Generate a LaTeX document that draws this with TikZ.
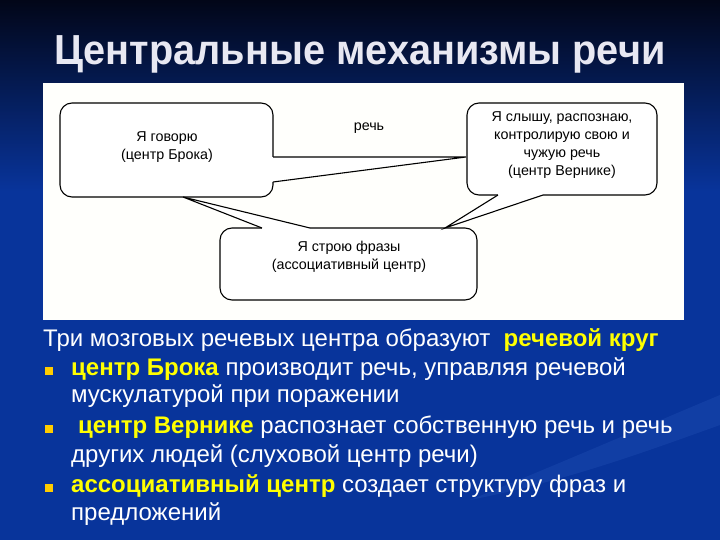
\documentclass[tikz,border=0pt]{standalone}
\usepackage{fontspec}
\setmainfont{Liberation Sans}
\usetikzlibrary{calc}
\definecolor{bgtop}{RGB}{2,6,24}
\definecolor{bgblue}{RGB}{8,52,155}
\definecolor{swoosh}{RGB}{30,75,175}
\definecolor{panel}{RGB}{255,255,252}
\definecolor{yel}{RGB}{255,255,0}
\definecolor{bul}{RGB}{255,204,0}
\definecolor{titlecol}{RGB}{232,232,242}
\tikzset{
  bubble/.style={draw=black, line width=1.1pt, fill=white, rounded corners=12pt},
  wedgeline/.style={draw=black, line width=1.1pt, line join=miter},
  wedgecover/.style={draw=white, line width=1.8pt, line cap=butt},
  btext/.style={font=\fontsize{14.3}{18}\selectfont, align=center, inner sep=0pt, text=black},
  body/.style={font=\fontsize{24}{27}\selectfont, text=white, anchor=base west, inner sep=0pt},
  bulletsq/.style={fill=bul, minimum size=8pt, inner sep=0pt, anchor=south west}
}
\newcommand{\yb}[1]{\textcolor{yel}{\textbf{#1}}}
\begin{document}
\begin{tikzpicture}[x=1pt,y=-1pt]
\useasboundingbox (0,0) rectangle (720,540);
% background
\fill[bgblue] (0,190) rectangle (720,540);
\shade[top color=bgtop, bottom color=bgblue] (0,0) rectangle (720,191);
\fill[swoosh, opacity=0.45] (470,500) .. controls (580,455) and (660,420) .. (720,395) -- (720,425) .. controls (650,450) and (570,480) .. (470,500) -- cycle;
% title
\node[anchor=base, inner sep=0pt, text=titlecol, font=\fontsize{42}{48}\selectfont\bfseries] (title) at (360,65) {\scalebox{0.945}[1]{Центральные механизмы речи}};
% panel
\fill[panel] (43,83) rectangle (684,320);
% bubbles
\draw[bubble] (220,228) rectangle (477,300);
\draw[bubble] (60,103) rectangle (273,197);
\draw[bubble] (467,103) rectangle (657,195);
% wedge coordinates
\coordinate (lwa) at (273,157);
\coordinate (lwb) at (273,182);
\coordinate (lwt) at (466,157);
\coordinate (rwa) at (498,195);
\coordinate (rwb) at (543,195);
\coordinate (rwt) at (445,228);
\coordinate (bwa) at (262,228);
\coordinate (bwb) at (310,228);
\coordinate (bwt) at (183,197);
% wedges
\foreach \a/\b/\t in {lwa/lwb/lwt, rwa/rwb/rwt, bwa/bwb/bwt}{
  \fill[white] (\a) -- (\t) -- (\b) -- cycle;
  \draw[wedgecover] (\a) -- (\b);
  \draw[wedgeline] (\a) -- (\t) -- (\b);
}
% bubble texts
\node[btext] (broca) at (167,147) {Я говорю\\(центр Брока)};
\node[btext] (speech) at (369,128) {речь};
\node[btext] (wernicke) at (562,145) {Я слышу, распознаю,\\контролирую свою и\\чужую речь\\(центр Вернике)};
\node[btext] (assoc) at (349,257) {Я строю фразы\\(ассоциативный центр)};
% body text
\node[body] (l1) at (43,346) {Три мозговых речевых центра образуют\ \ \yb{речевой круг}};
\node[bulletsq] (b2) at (45,375) {};
\node[body] (l2) at (71,375) {\yb{центр Брока} производит речь, управляя речевой};
\node[body] (l3) at (71,402) {мускулатурой при поражении};
\node[bulletsq] (b4) at (45,433) {};
\node[body] (l4) at (78,433) {\yb{центр Вернике} распознает собственную речь и речь};
\node[body] (l5) at (71,462) {других людей (слуховой центр речи)};
\node[bulletsq] (b6) at (45,492) {};
\node[body] (l6) at (71,492) {\yb{ассоциативный центр} создает структуру фраз и};
\node[body] (l7) at (71,520) {предложений};
\end{tikzpicture}
\end{document}
